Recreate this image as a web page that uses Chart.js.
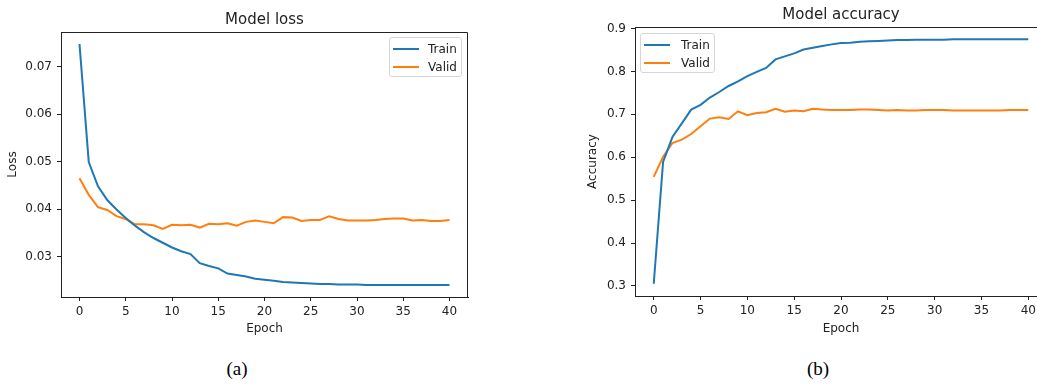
<!DOCTYPE html>
<html>
<head>
<meta charset="utf-8">
<title>Model loss / Model accuracy</title>
<script src="https://cdn.jsdelivr.net/npm/chart.js"></script>
<style>
	html, body { margin: 0; padding: 0; background: #fff; overflow: hidden; }
	body { width: 1037px; height: 384px; position: relative; font-family: 'DejaVu Sans', sans-serif; }
	canvas { position: absolute; top: 0; }
	#lossChart { left: 0; }
	#accChart { left: 580px; }
	.legend { position: absolute; box-sizing: border-box; border: 1px solid #d6d6d6; border-radius: 3px;
		background: rgba(255, 255, 255, 0.8); font-size: 12px; color: #222; }
	.legend .row { position: absolute; left: 0; height: 14px; line-height: 14px; white-space: nowrap; }
	.legend .swatch { position: absolute; top: 6px; height: 2px; width: 26px; }
	.legend .label { position: absolute; top: 0; }
	.caption { position: absolute; top: 358px; font-family: 'Liberation Serif', serif; font-size: 19px; color: #000;
		width: 60px; text-align: center; }
</style>
</head>
<body>
<canvas id="lossChart" width="480" height="340"></canvas>
<canvas id="accChart" width="480" height="340"></canvas>
<div class="caption" style="left: 207px;">(a)</div>
<div class="caption" style="left: 788px;">(b)</div>
<script>
const epochs = [0, 1, 2, 3, 4, 5, 6, 7, 8, 9, 10, 11, 12, 13, 14, 15, 16, 17, 18, 19, 20,
	21, 22, 23, 24, 25, 26, 27, 28, 29, 30, 31, 32, 33, 34, 35, 36, 37, 38, 39, 40];
const xTicks = [0, 5, 10, 15, 20, 25, 30, 35, 40];

const lossTrain = [0.0748, 0.0499, 0.0448, 0.0419, 0.0399, 0.0381, 0.0365, 0.0351, 0.0339, 0.0329,
	0.0319, 0.0311, 0.0305, 0.0286, 0.0280, 0.0275, 0.0264, 0.0261, 0.0258, 0.0253,
	0.0251, 0.0249, 0.0246, 0.0245, 0.0244, 0.0243, 0.0242, 0.0242, 0.0241, 0.0241,
	0.0241, 0.0240, 0.0240, 0.0240, 0.0240, 0.0240, 0.0240, 0.0240, 0.0240, 0.0240, 0.0240];
const lossValid = [0.0465, 0.0430, 0.0404, 0.0398, 0.0385, 0.0379, 0.0368, 0.0368, 0.0366, 0.0358,
	0.0367, 0.0366, 0.0367, 0.0361, 0.0369, 0.0368, 0.0370, 0.0365, 0.0373, 0.0376,
	0.0373, 0.0370, 0.0383, 0.0382, 0.0375, 0.0377, 0.0377, 0.0385, 0.0379, 0.0376,
	0.0376, 0.0376, 0.0377, 0.0379, 0.0380, 0.0380, 0.0376, 0.0377, 0.0375, 0.0375, 0.0377];
const lossTicks = [0.03, 0.04, 0.05, 0.06, 0.07];

const accTrain = [0.305, 0.589, 0.647, 0.679, 0.711, 0.722, 0.739, 0.752, 0.766, 0.777,
	0.789, 0.799, 0.808, 0.828, 0.835, 0.842, 0.851, 0.855, 0.859, 0.863,
	0.866, 0.867, 0.869, 0.870, 0.871, 0.872, 0.873, 0.873, 0.874, 0.874,
	0.874, 0.874, 0.875, 0.875, 0.875, 0.875, 0.875, 0.875, 0.875, 0.875, 0.875];
const accValid = [0.554, 0.601, 0.633, 0.641, 0.654, 0.672, 0.690, 0.693, 0.689, 0.707,
	0.698, 0.703, 0.705, 0.713, 0.706, 0.709, 0.707, 0.713, 0.711, 0.710,
	0.710, 0.710, 0.711, 0.711, 0.710, 0.709, 0.710, 0.709, 0.709, 0.710,
	0.710, 0.710, 0.709, 0.709, 0.709, 0.709, 0.709, 0.709, 0.710, 0.710, 0.710];
const accTicks = [0.3, 0.4, 0.5, 0.6, 0.7, 0.8, 0.9];

const seriesNames = ['Train', 'Valid'];
const seriesColors = ['#1f77b4', '#ff7f0e'];
const ink = '#222';

Chart.defaults.font.family = "'DejaVu Sans', sans-serif";
Chart.defaults.font.size = 12;
Chart.defaults.color = ink;

// closes the box round the plot (top and right spines)
const plotFrame = {
	id: 'plotFrame',
	afterDraw: function (chart) {
		const a = chart.chartArea;
		const c = chart.ctx;
		c.save();
		c.strokeStyle = ink;
		c.lineWidth = 1;
		c.beginPath();
		c.moveTo(a.left, a.top + 0.5);
		c.lineTo(a.right - 0.5, a.top + 0.5);
		c.lineTo(a.right - 0.5, a.bottom);
		c.stroke();
		c.restore();
	}
};
Chart.register(plotFrame);

// matplotlib style 5% margins
function padRange(a, b) {
	const lo = Math.min(...a, ...b), hi = Math.max(...a, ...b);
	const m = (hi - lo) * 0.05;
	return [lo - m, hi + m];
}

function makeChart(id, opts) {
	const [ymin, ymax] = padRange(opts.train, opts.valid);
	const ctx = document.getElementById(id).getContext('2d');
	return new Chart(ctx, {
		type: 'line',
		data: {
			datasets: [opts.train, opts.valid].map((vals, i) => ({
				label: seriesNames[i],
				data: epochs.map((e, j) => ({ x: e, y: vals[j] })),
				borderColor: seriesColors[i],
				borderWidth: 2,
				pointRadius: 0,
				tension: 0,
			}))
		},
		options: {
			responsive: false,
			animation: false,
			layout: { padding: { left: 0, right: opts.padRight, top: 0, bottom: 0 } },
			plugins: {
				legend: { display: false },
				tooltip: { enabled: false },
				title: {
					display: true,
					text: opts.title,
					fullSize: false,
					color: ink,
					font: { size: 15, weight: 'normal' },
					padding: { top: opts.titleTop, bottom: 3 }
				}
			},
			scales: {
				x: {
					type: 'linear',
					min: -2,
					max: 42,
					afterFit: s => { s.height = opts.xHeight; },
					afterBuildTicks: s => { s.ticks = xTicks.map(v => ({ value: v })); },
					ticks: { padding: 4, color: ink, maxRotation: 0 },
					grid: { drawOnChartArea: false, drawTicks: true, tickLength: 4, color: ink },
					border: { display: true, color: ink, width: 1 },
					title: { display: true, text: 'Epoch', color: ink, font: { size: 12 }, padding: { top: 0, bottom: 4 } }
				},
				y: {
					type: 'linear',
					min: ymin,
					max: ymax,
					afterFit: s => { s.width = opts.yWidth; },
					afterBuildTicks: s => { s.ticks = opts.yTicks.map(v => ({ value: v })); },
					ticks: { padding: 5, color: ink, callback: v => String(Number(v.toFixed(3))) },
					grid: { drawOnChartArea: false, drawTicks: true, tickLength: 4, color: ink },
					border: { display: true, color: ink, width: 1 },
					title: { display: true, text: opts.yLabel, color: ink, font: { size: 12 }, padding: { top: 6, bottom: 0 } }
				}
			}
		}
	});
}

function makeLegend(box) {
	const el = document.createElement('div');
	el.className = 'legend';
	Object.assign(el.style, { left: box.left + 'px', top: box.top + 'px', width: box.w + 'px', height: box.h + 'px' });
	seriesNames.forEach((name, i) => {
		const row = document.createElement('div');
		row.className = 'row';
		row.style.top = (box.rowTop + i * box.rowGap) + 'px';
		row.innerHTML = '<span class="swatch" style="left:' + box.swatchLeft + 'px;background:' + seriesColors[i] + '"></span>' +
			'<span class="label" style="left:' + box.textLeft + 'px">' + name + '</span>';
		el.appendChild(row);
	});
	document.body.appendChild(el);
}

makeChart('lossChart', {
	title: 'Model loss', yLabel: 'Loss', train: lossTrain, valid: lossValid, yTicks: lossTicks,
	padRight: 12, yWidth: 61, xHeight: 43, titleTop: 11
});
makeChart('accChart', {
	title: 'Model accuracy', yLabel: 'Accuracy', train: accTrain, valid: accValid, yTicks: accTicks,
	padRight: 13, yWidth: 55, xHeight: 44, titleTop: 6
});

makeLegend({ left: 389, top: 37, w: 73, h: 40, rowTop: 4, rowGap: 18, swatchLeft: 3, textLeft: 38 });
makeLegend({ left: 640, top: 33, w: 75, h: 40, rowTop: 4, rowGap: 18, swatchLeft: 3, textLeft: 40 });
</script>
</body>
</html>
